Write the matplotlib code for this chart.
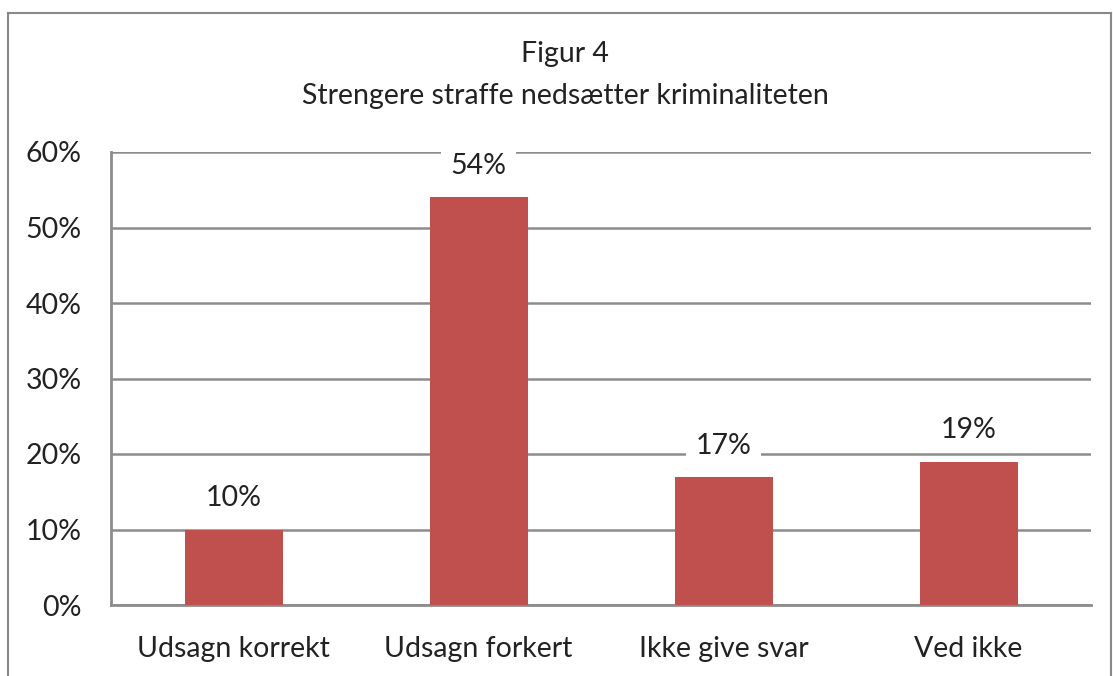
import matplotlib.pyplot as plt
from matplotlib.lines import Line2D

# Dane
kategorie = ["Udsagn korrekt", "Udsagn forkert", "Ikke give svar", "Ved ikke"]
wartosci = [10, 54, 17, 19]
ticki = [0, 10, 20, 30, 40, 50, 60]
tytul = "Figur 4\nStrengere straffe nedsætter kriminaliteten"

plt.rcParams['font.family'] = ['Lato', 'DejaVu Sans']
FS = 20.5

W, H = 1113, 676
fig = plt.figure(figsize=(W / 100, H / 100), dpi=100)

# Ramka wykresu
for xs, ys in [([8, 8], [676, 13]), ([8, 1111], [13, 13]), ([1111, 1111], [13, 676])]:
    fig.add_artist(Line2D([v / W for v in xs], [1 - v / H for v in ys], color="#888888",
                          lw=1.5, transform=fig.transFigure))

left, right, top, bottom = 111, 1091, 152, 605
ax = fig.add_axes([left / W, 1 - bottom / H, (right - left) / W, (bottom - top) / H])

x = range(len(kategorie))
ax.bar(x, wartosci, width=0.4, color="#C0504D", zorder=3)
ax.set_xlim(-0.5, len(kategorie) - 0.5)
ax.set_ylim(0, 60)
ax.set_yticks(ticki)
ax.set_yticklabels([f"{t}%" for t in ticki])
ax.set_xticks(list(x))
ax.set_xticklabels(kategorie)
ax.tick_params(axis="both", length=0, labelsize=FS, colors="#222222")
ax.tick_params(axis="y", pad=21)
ax.tick_params(axis="x", pad=22)
ax.yaxis.grid(True, color="#8C8C8C", lw=1.8, zorder=0)
for s in ["top", "right"]:
    ax.spines[s].set_visible(False)
for s in ["left", "bottom"]:
    ax.spines[s].set_color("#8C8C8C")
    ax.spines[s].set_linewidth(2)

for i, v in enumerate(wartosci):
    ax.annotate(f"{v}%", (i, v), xytext=(0, 13), textcoords="offset points",
                ha="center", va="bottom", fontsize=FS, color="#222222", zorder=4,
                bbox=dict(boxstyle="square,pad=0.35", fc="white", ec="none"))

fig.text(565 / W, 1 - 75 / H, tytul, ha="center", va="center", fontsize=FS,
         color="#222222", linespacing=1.8)

fig.savefig("out.png", dpi=100)
